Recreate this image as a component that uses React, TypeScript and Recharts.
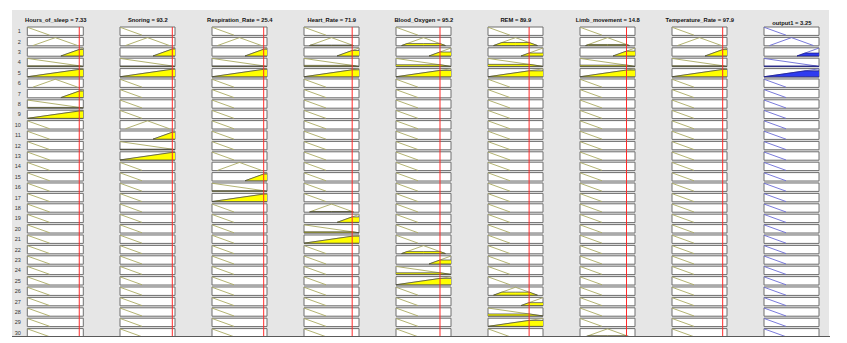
import React from 'react';
import {
  ComposedChart,
  Line,
  Area,
  XAxis,
  YAxis,
  ReferenceArea,
  ReferenceLine,
} from 'recharts';

const inputNames = [
  'Hours_of_sleep',
  'Snoring',
  'Respiration_Rate',
  'Heart_Rate',
  'Blood_Oxygen',
  'REM',
  'Limb_movement',
  'Temperature_Rate',
];
const inputValues = [7.33, 93.2, 25.4, 71.9, 95.2, 89.9, 14.8, 97.9];
const inputMins = [0, 0, 16, 50, 80, 60, 0, 85];
const inputMaxs = [7.9, 98, 26, 75, 99, 100, 17.5, 99];
const outputName = 'output1';
const outputValue = '3.25';
const outputMin = 0;
const outputMax = 4;

// triangular MF params on a 0..1 scale of each variable
const mfParams: Record<string, number[]> = {
  L: [-0.4, 0, 0.4],
  M: [0.1, 0.5, 0.9],
  H: [0.6, 1, 1.4],
  WL: [-1, 0, 1],
  WH: [0, 1, 2],
};

// rows 1..30 as shown: 8 inputs, then output
const rules: string[][] = [
  ['L', 'L', 'L', 'L', 'L', 'L', 'L', 'L', 'L'],
  ['M', 'M', 'M', 'M', 'M', 'M', 'M', 'M', 'M'],
  ['H', 'H', 'H', 'H', 'H', 'H', 'H', 'H', 'H'],
  ['WL', 'WL', 'WL', 'WL', 'WL', 'WL', 'WL', 'WL', 'WL'],
  ['WH', 'WH', 'WH', 'WH', 'WH', 'WH', 'WH', 'WH', 'WH'],
  ['M', 'L', 'L', 'L', 'L', 'L', 'L', 'L', 'L'],
  ['H', 'L', 'L', 'L', 'L', 'L', 'L', 'L', 'L'],
  ['WL', 'L', 'L', 'L', 'L', 'L', 'L', 'L', 'L'],
  ['WH', 'L', 'L', 'L', 'L', 'L', 'L', 'L', 'L'],
  ['L', 'M', 'L', 'L', 'L', 'L', 'L', 'L', 'L'],
  ['L', 'H', 'L', 'L', 'L', 'L', 'L', 'L', 'L'],
  ['L', 'WL', 'L', 'L', 'L', 'L', 'L', 'L', 'L'],
  ['L', 'WH', 'L', 'L', 'L', 'L', 'L', 'L', 'L'],
  ['L', 'L', 'M', 'L', 'L', 'L', 'L', 'L', 'L'],
  ['L', 'L', 'H', 'L', 'L', 'L', 'L', 'L', 'L'],
  ['L', 'L', 'WL', 'L', 'L', 'L', 'L', 'L', 'L'],
  ['L', 'L', 'WH', 'L', 'L', 'L', 'L', 'L', 'L'],
  ['L', 'L', 'L', 'M', 'L', 'L', 'L', 'L', 'L'],
  ['L', 'L', 'L', 'H', 'L', 'L', 'L', 'L', 'L'],
  ['L', 'L', 'L', 'WL', 'L', 'L', 'L', 'L', 'L'],
  ['L', 'L', 'L', 'WH', 'L', 'L', 'L', 'L', 'L'],
  ['L', 'L', 'L', 'L', 'M', 'L', 'L', 'L', 'L'],
  ['L', 'L', 'L', 'L', 'H', 'L', 'L', 'L', 'L'],
  ['L', 'L', 'L', 'L', 'WL', 'L', 'L', 'L', 'L'],
  ['L', 'L', 'L', 'L', 'WH', 'L', 'L', 'L', 'L'],
  ['L', 'L', 'L', 'L', 'L', 'M', 'L', 'L', 'L'],
  ['L', 'L', 'L', 'L', 'L', 'H', 'L', 'L', 'L'],
  ['L', 'L', 'L', 'L', 'L', 'WL', 'L', 'L', 'L'],
  ['L', 'L', 'L', 'L', 'L', 'WH', 'L', 'L', 'L'],
  ['L', 'L', 'L', 'L', 'L', 'L', 'M', 'L', 'L'],
];

// layout
const PANEL_LEFT = 12;
const PANEL_TOP = 10;
const COL_LEFT0 = 28.3;
const COL_STEP = 92;
const BOX_W = 55;
const PLOT_TOP = 27.3;
const PLOT_H = 310;
const ROW_PITCH = 1.3124;
const PAD = 0.03;
const Y_MAX = 1 + PAD;
const Y_MIN = -(rules.length - 1) * ROW_PITCH - PAD;

const trimf = (u: number, p: number[]) => {
  const [a, b, c] = p;
  if (u <= a || u >= c) return 0;
  return u <= b ? (u - a) / (b - a) : (c - u) / (c - b);
};

const uniqSorted = (arr: number[]) =>
  Array.from(new Set(arr.map((v) => Math.round(v * 1e6) / 1e6))).sort((a, b) => a - b);

const norm = (ci: number) => (inputValues[ci] - inputMins[ci]) / (inputMaxs[ci] - inputMins[ci]);

const degree = (r: number, ci: number) => trimf(norm(ci), mfParams[rules[r][ci]]);
const strength = (r: number) => Math.min(...inputNames.map((_, ci) => degree(r, ci)));

function buildColumn(ci: number, min: number, max: number) {
  const line: any[] = [];
  const fill: any[] = [];
  const toX = (u: number) => min + u * (max - min);
  rules.forEach((rule, r) => {
    const off = -r * ROW_PITCH;
    const p = mfParams[rule[ci]];
    const lo = Math.max(p[0], 0);
    const hi = Math.min(p[2], 1);
    uniqSorted([lo, p[1], hi].filter((u) => u >= lo && u <= hi)).forEach((u) =>
      line.push({ x: toX(u), y: off + trimf(u, p) })
    );
    line.push({ x: toX(hi), y: null });
    const a = ci < inputNames.length ? degree(r, ci) : strength(r);
    if (a > 0.001) {
      uniqSorted(
        [lo, hi, p[1], p[0] + a * (p[1] - p[0]), p[2] - a * (p[2] - p[1])].filter(
          (u) => u >= lo && u <= hi
        )
      ).forEach((u) => fill.push({ x: toX(u), v: [off, off + Math.min(trimf(u, p), a)] }));
      fill.push({ x: toX(hi), v: null });
    }
  });
  return { line, fill };
}

const font = '"Liberation Sans", Arial, sans-serif';

const RuleColumn = ({ ci }: { ci: number }) => {
  const isOut = ci === inputNames.length;
  const min = isOut ? outputMin : inputMins[ci];
  const max = isOut ? outputMax : inputMaxs[ci];
  const { line, fill } = buildColumn(ci, min, max);
  const first = ci === 0;
  const axisW = first ? COL_LEFT0 - PANEL_LEFT : 0;
  const left = COL_LEFT0 + ci * COL_STEP - 1 - axisW;
  const rowTicks = rules.map((_, r) => -r * ROW_PITCH + 0.5);
  return (
    <div style={{ position: 'absolute', left: left - PANEL_LEFT, top: PLOT_TOP - 1 - PANEL_TOP }}>
      <ComposedChart
        width={BOX_W + 2 + axisW}
        height={PLOT_H + 2}
        margin={{ top: 1, right: 1, bottom: 1, left: 1 }}
      >
        <XAxis type="number" dataKey="x" domain={[min, max]} hide allowDataOverflow />
        <YAxis
          type="number"
          domain={[Y_MIN, Y_MAX]}
          allowDataOverflow
          hide={!first}
          width={axisW - 1}
          ticks={rowTicks}
          interval={0}
          axisLine={false}
          tickLine={false}
          tickSize={0}
          tickMargin={6.5}
          tickFormatter={(v: number) => String(Math.round((0.5 - v) / ROW_PITCH) + 1)}
          tick={{ fontSize: 5.5, fill: '#333', fontFamily: font }}
        />
        {rules.map((_, r) => (
          <ReferenceArea
            key={r}
            x1={min}
            x2={max}
            y1={-r * ROW_PITCH - PAD}
            y2={-r * ROW_PITCH + 1 + PAD}
            fill="#ffffff"
            fillOpacity={1}
            stroke="#6e6e6e"
            strokeWidth={1}
            zIndex={-10}
          />
        ))}
        <Line
          data={line}
          dataKey="y"
          stroke={isOut ? '#6b6bd6' : '#aaaa62'}
          strokeWidth={0.9}
          dot={false}
          activeDot={false}
          connectNulls={false}
          isAnimationActive={false}
          zIndex={300}
        />
        {fill.length > 0 && (
          <Area
            data={fill}
            dataKey="v"
            type="linear"
            stroke={isOut ? '#1a1a80' : '#404040'}
            strokeWidth={0.7}
            fill={isOut ? '#2f3cf0' : '#ffff00'}
            fillOpacity={1}
            connectNulls={false}
            dot={false}
            activeDot={false}
            isAnimationActive={false}
            zIndex={400}
          />
        )}
        {!isOut && (
          <ReferenceLine x={inputValues[ci]} stroke="#ff2a2a" strokeWidth={1} zIndex={500} />
        )}
      </ComposedChart>
    </div>
  );
};

const titles = [
  ...inputNames.map((n, i) => `${n} = ${inputValues[i]}`),
  `${outputName} = ${outputValue}`,
];

export default function App() {
  return (
    <div
      style={{
        position: 'absolute',
        left: 0,
        top: 0,
        width: 847,
        height: 343,
        background: '#ffffff',
        fontFamily: font,
      }}
    >
      <div
        style={{
          position: 'absolute',
          left: PANEL_LEFT,
          top: PANEL_TOP,
          width: 817,
          height: 326,
          background: '#e6e6e6',
          overflow: 'hidden',
        }}
      >
        {titles.map((t, i) => (
          <div
            key={t}
            style={{
              position: 'absolute',
              left: COL_LEFT0 + i * COL_STEP - PANEL_LEFT - 20,
              width: BOX_W + 40,
              top: i === inputNames.length ? 9.8 : 7.3,
              fontSize: 5.8,
              lineHeight: '7px',
              fontWeight: 'bold',
              textAlign: 'center',
              color: '#111',
              whiteSpace: 'nowrap',
            }}
          >
            {t}
          </div>
        ))}
        {titles.map((_, i) => (
          <RuleColumn key={i} ci={i} />
        ))}
      </div>
      <div
        style={{
          position: 'absolute',
          left: PANEL_LEFT,
          top: 336,
          width: 818,
          height: 1,
          background: '#5a5a5a',
        }}
      />
    </div>
  );
}
